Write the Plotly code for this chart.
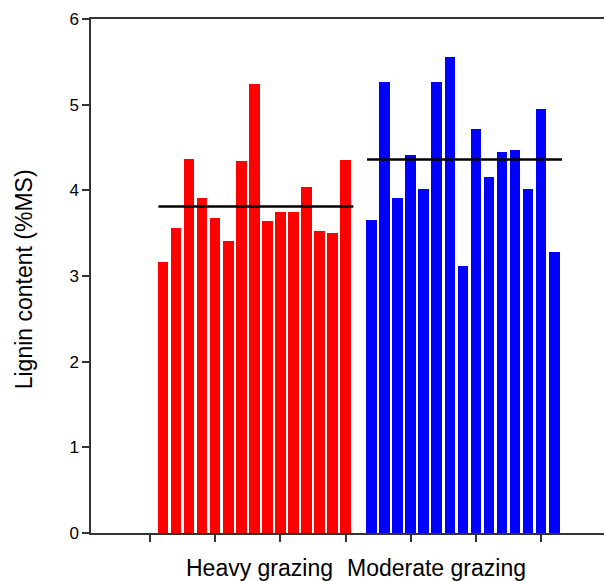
import plotly.graph_objects as go

heavy = [3.16, 3.56, 4.37, 3.91, 3.68, 3.41, 4.34, 5.24, 3.64, 3.75, 3.75, 4.04, 3.52, 3.50, 4.35]
moderate = [3.65, 5.27, 3.91, 4.41, 4.01, 5.26, 5.56, 3.12, 4.72, 4.15, 4.45, 4.47, 4.02, 4.95, 3.28]
group_means = [3.81, 4.36]
group_labels = ["Heavy grazing", "Moderate grazing"]
y_ticks = [0, 1, 2, 3, 4, 5, 6]

x_heavy = list(range(1, 1 + len(heavy)))
x_mod = list(range(17, 17 + len(moderate)))

FONT = "Liberation Sans, Arial, sans-serif"

fig = go.Figure()
fig.add_trace(go.Bar(x=x_heavy, y=heavy, width=0.82, marker=dict(color="#ff0000", line=dict(width=0)), showlegend=False))
fig.add_trace(go.Bar(x=x_mod, y=moderate, width=0.82, marker=dict(color="#0000ff", line=dict(width=0)), showlegend=False))

for xs, m in [(x_heavy, group_means[0]), (x_mod, group_means[1])]:
    fig.add_trace(go.Scatter(x=[xs[0] - 0.35, xs[-1] + 0.6], y=[m, m], mode="lines",
                             line=dict(color="black", width=2.5), showlegend=False))

fig.add_annotation(x=8.41, y=0, xref="x", yref="paper", text=group_labels[0], showarrow=False,
                   xanchor="center", yanchor="middle", yshift=-35,
                   font=dict(size=23, color="black", family=FONT))
fig.add_annotation(x=22.0, y=0, xref="x", yref="paper", text=group_labels[1], showarrow=False,
                   xanchor="center", yanchor="middle", yshift=-35,
                   font=dict(size=23, color="black", family=FONT))
fig.add_annotation(x=-0.13, y=0.5, xref="paper", yref="paper", text="Lignin content (%MS)",
                   textangle=-90, showarrow=False, xanchor="center", yanchor="middle", yshift=-3,
                   font=dict(size=23, color="black", family=FONT))

fig.update_layout(
    width=604, height=581,
    margin=dict(l=91, r=0, t=19, b=48),
    plot_bgcolor="white", paper_bgcolor="white",
    font=dict(family=FONT, color="black"),
    bargap=0,
)
fig.update_xaxes(range=[-4.52, 34.82], tickvals=[0, 5, 10, 15, 20, 25, 30], showticklabels=False,
                 ticks="outside", ticklen=7, tickcolor="#333", tickwidth=1.5,
                 showline=True, linecolor="#333", linewidth=1.5, mirror=True, showgrid=False, zeroline=False)
fig.update_yaxes(range=[0, 6], tickvals=y_ticks, ticks="outside", ticklen=7, tickcolor="#333", tickwidth=1.5,
                 showline=True, linecolor="#333", linewidth=1.5, showgrid=False, zeroline=False,
                 tickfont=dict(size=17))

fig.write_html("out.html", config={"displayModeBar": False},
               post_script="document.body.style.margin='0';document.body.style.overflow='hidden';")
